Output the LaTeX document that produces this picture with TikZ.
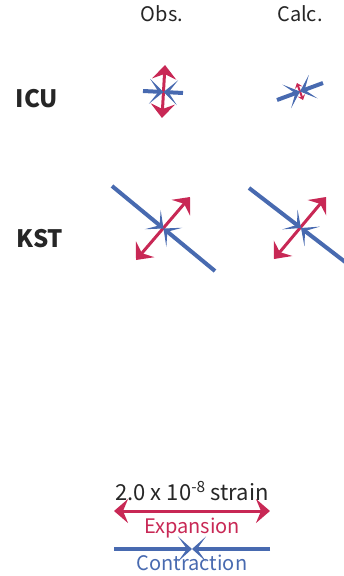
\documentclass[tikz,border=0pt]{standalone}
\usepackage{fontspec}
\setmainfont{Noto Sans CJK JP}
\usetikzlibrary{arrows.meta,positioning}
\definecolor{expred}{RGB}{200,40,85}
\definecolor{conblue}{RGB}{72,106,176}
\begin{document}
\begin{tikzpicture}[x=1pt,y=-1pt]
\tikzset{lbl/.style={font=\fontsize{20}{24}\selectfont,text=black!85,anchor=base},
site/.style={font=\fontsize{24}{28}\selectfont\bfseries,text=black!85,anchor=base},
ext/.style={draw=expred,line width=3pt,{Stealth[length=14pt,width=24pt,inset=5pt]}-{Stealth[length=14pt,width=24pt,inset=5pt]}},
extsmall/.style={draw=expred,line width=2pt,{Stealth[length=5pt,width=8pt,inset=2pt]}-{Stealth[length=5pt,width=8pt,inset=2pt]}},
con/.style={draw=conblue,line width=4pt,-{Stealth[length=14pt,width=25pt,inset=9pt]}},
}
\clip (0,0) rectangle (344,576);

\node[lbl] (obs) at (162,21) {Obs.};
\node[lbl] (calc) at (300,21) {Calc.};
\node[site] (icu) at (37,107) {ICU};
\node[site] (kst) at (40,247) {KST};

% ICU
\coordinate (icuO) at (163.5,92);
\coordinate (icuOt) at (165,65);
\coordinate (icuOb) at (162,118);
\coordinate (icuOl) at (143,91);
\coordinate (icuOr) at (183,93);
\draw[ext] (icuOb) -- (icuOt);
\draw[con] (icuOl) -- (icuO);
\draw[con] (icuOr) -- (icuO);

\coordinate (icuC) at (300,91.5);
\coordinate (icuCt) at (297,83);
\coordinate (icuCb) at (303,100);
\coordinate (icuCl) at (277,100);
\coordinate (icuCr) at (323,83);
\draw[extsmall] (icuCb) -- (icuCt);
\draw[con] (icuCl) -- (icuC);
\draw[con] (icuCr) -- (icuC);

% KST
\coordinate (kstO) at (163.5,228.5);
\coordinate (kstOt) at (190,197);
\coordinate (kstOb) at (136,260);
\coordinate (kstOl) at (112,186);
\coordinate (kstOr) at (215,271);
\draw[ext] (kstOb) -- (kstOt);
\draw[con] (kstOl) -- (kstO);
\draw[con] (kstOr) -- (kstO);

\coordinate (kstC) at (301,228);
\coordinate (kstCt) at (326,197);
\coordinate (kstCb) at (274,259);
\coordinate (kstCl) at (249,188);
\coordinate (kstCr) at (353,268);
\draw[ext] (kstCb) -- (kstCt);
\draw[con] (kstCl) -- (kstC);
\draw[con] (kstCr) -- (kstC);

% scale
\node[lbl,font=\fontsize{22}{26}\selectfont] (scale) at (192,500) {2.0 x 10\textsuperscript{-8} strain};
\coordinate (el) at (114,511);
\coordinate (er) at (270,511);
\draw[ext] (el) -- (er);
\node[lbl,text=expred] (exp) at (192,533) {Expansion};
\coordinate (cl) at (114,549);
\coordinate (cm) at (192,549);
\coordinate (cr) at (270,549);
\draw[con] (cl) -- (cm);
\draw[con] (cr) -- (cm);
\node[lbl,text=conblue] (con) at (192,570) {Contraction};

\end{tikzpicture}
\end{document}
